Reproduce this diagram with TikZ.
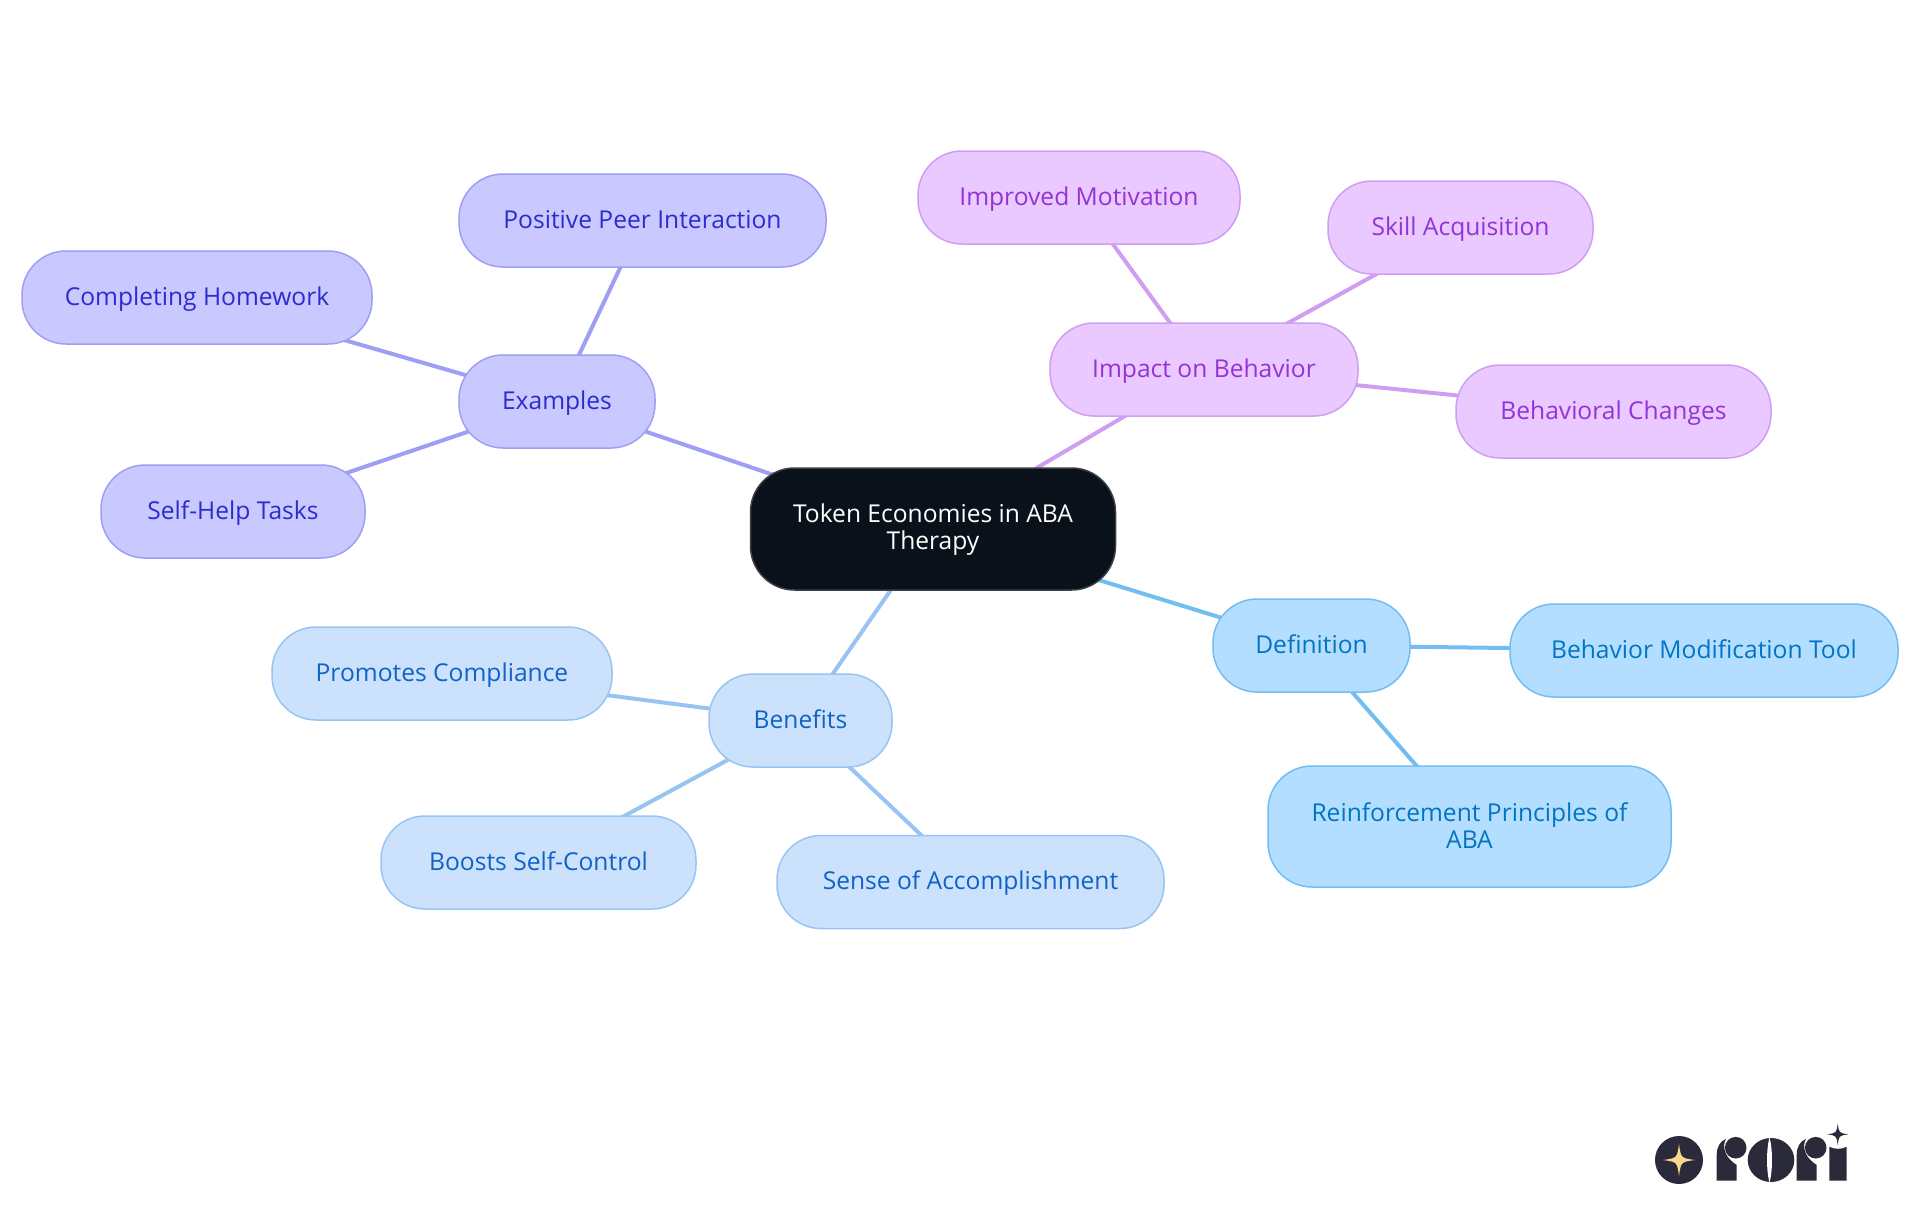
\documentclass[tikz,border=0pt]{standalone}
\usepackage{fontspec}
\setmainfont{Open Sans}
\usetikzlibrary{backgrounds}
\definecolor{rootfill}{HTML}{0B111A}
\definecolor{rootline}{HTML}{3B4047}
\definecolor{violetfill}{HTML}{C9C9FF}
\definecolor{violetline}{HTML}{9E9EF5}
\definecolor{violettext}{HTML}{2B2BD0}
\definecolor{purplefill}{HTML}{E9C9FF}
\definecolor{purpleline}{HTML}{CF9EF2}
\definecolor{purpletext}{HTML}{9333D6}
\definecolor{paleblfill}{HTML}{CCE2FC}
\definecolor{paleblline}{HTML}{98C4F2}
\definecolor{palebltext}{HTML}{0F62C8}
\definecolor{skyfill}{HTML}{B3DEFF}
\definecolor{skyline}{HTML}{72BDF2}
\definecolor{skytext}{HTML}{0274C4}
\definecolor{logodark}{HTML}{2A2A3A}
\definecolor{logostar}{HTML}{FBD98C}
\tikzset{
  mapbox/.style={rounded corners=44pt, line width=1.5pt, inner sep=0pt, minimum height=93pt,
    align=center, text height=20pt, text depth=5pt, font=\fontsize{24.6}{27}\selectfont},
  twolines/.style={text height=, text depth=},
  rootbox/.style={mapbox, twolines, fill=rootfill, draw=rootline, text=white},
  violetbox/.style={mapbox, fill=violetfill, draw=violetline, text=violettext},
  purplebox/.style={mapbox, fill=purplefill, draw=purpleline, text=purpletext},
  palebox/.style={mapbox, fill=paleblfill, draw=paleblline, text=palebltext},
  skybox/.style={mapbox, fill=skyfill, draw=skyline, text=skytext},
  maplink/.style={line width=4pt}
}
% four pointed star of the logo
\newcommand{\logostar}[4]{%
  \fill[#4] (#1,#2-#3) .. controls (#1+0.12*#3,#2-0.12*#3) .. (#1+#3,#2)
    .. controls (#1+0.12*#3,#2+0.12*#3) .. (#1,#2+#3)
    .. controls (#1-0.12*#3,#2+0.12*#3) .. (#1-#3,#2)
    .. controls (#1-0.12*#3,#2-0.12*#3) .. (#1,#2-#3) -- cycle;}
\begin{document}
\begin{tikzpicture}[x=1pt,y=-1pt]
  \useasboundingbox (0,0) rectangle (1920,1215);
  % root
  \node (root) [rootbox, minimum width=365pt, minimum height=122pt] at (933,529) {\rule{0pt}{20pt}Token Economies in ABA\\Therapy};
  % examples
  \node (examples) [violetbox, minimum width=196pt] at (557,401.5) {Examples};
  \node (peer) [violetbox, minimum width=367pt] at (642.5,220.5) {Positive Peer Interaction};
  \node (homework) [violetbox, minimum width=350pt] at (197,297.5) {Completing Homework};
  \node (selfhelp) [violetbox, minimum width=264pt] at (233,511.5) {Self-Help Tasks};
  % impact
  \node (impact) [purplebox, minimum width=308pt] at (1204,369.5) {Impact on Behavior};
  \node (motivation) [purplebox, minimum width=322pt] at (1079,197.5) {Improved Motivation};
  \node (skill) [purplebox, minimum width=265pt] at (1460.5,227.5) {Skill Acquisition};
  \node (changes) [purplebox, minimum width=315pt] at (1613.5,411.5) {Behavioral Changes};
  % definition
  \node (definition) [skybox, minimum width=197pt] at (1311.5,645.5) {Definition};
  \node (tool) [skybox, minimum width=388pt] at (1704,650.5) {Behavior Modification Tool};
  \node (principles) [skybox, twolines, minimum width=403pt, minimum height=121pt] at (1469.5,826.5) {Reinforcement Principles of\\ABA\rule[-2pt]{0pt}{2pt}};
  % benefits
  \node (benefits) [palebox, minimum width=183pt] at (800.5,720.5) {Benefits};
  \node (compliance) [palebox, minimum width=340pt] at (442,673.5) {Promotes Compliance};
  \node (selfcontrol) [palebox, minimum width=315pt] at (538.5,862.5) {Boosts Self-Control};
  \node (accomplish) [palebox, minimum width=387pt] at (970.5,882) {Sense of Accomplishment};
  % links behind the boxes
  \begin{scope}[on background layer]
    \draw[maplink, violetline] (root.center) -- (examples.center);
    \draw[maplink, violetline] (examples.center) -- (peer.center);
    \draw[maplink, violetline] (examples.center) -- (homework.center);
    \draw[maplink, violetline] (examples.center) -- (selfhelp.center);
    \draw[maplink, purpleline] (root.center) -- (impact.center);
    \draw[maplink, purpleline] (impact.center) -- (motivation.center);
    \draw[maplink, purpleline] (impact.center) -- (skill.center);
    \draw[maplink, purpleline] (impact.center) -- (changes.center);
    \draw[maplink, skyline] (root.center) -- (definition.center);
    \draw[maplink, skyline] (definition.center) -- (tool.center);
    \draw[maplink, skyline] (definition.center) -- (principles.center);
    \draw[maplink, paleblline] (root.center) -- (benefits.center);
    \draw[maplink, paleblline] (benefits.center) -- (compliance.center);
    \draw[maplink, paleblline] (benefits.center) -- (selfcontrol.center);
    \draw[maplink, paleblline] (benefits.center) -- (accomplish.center);
  \end{scope}
  % logo
  \fill[logodark] (1679,1160) circle [radius=24];
  \logostar{1679}{1160}{16}{logostar}
  \fill[logodark] (1716.7,1180.7) -- (1716.7,1155) .. controls (1716.7,1147) and (1720,1141) .. (1726,1139)
    .. controls (1722,1146) and (1724,1157) .. (1736.7,1165) -- (1736.7,1180.7) -- cycle;
  \fill[logodark] (1735.7,1147.7) circle [radius=10.8];
  \fill[logodark] (1771,1160) ellipse [x radius=23.3, y radius=22];
  \fill[white] (1769.5,1137) .. controls (1766.2,1150) and (1766.2,1170) .. (1769.5,1183)
    .. controls (1772.8,1170) and (1772.8,1150) .. (1769.5,1137) -- cycle;
  \fill[logodark] (1796.7,1180.7) -- (1796.7,1155) .. controls (1796.7,1147) and (1800,1141) .. (1806,1139)
    .. controls (1802,1146) and (1804,1157) .. (1816.7,1165) -- (1816.7,1180.7) -- cycle;
  \fill[logodark] (1815.7,1147.7) circle [radius=10.8];
  \fill[logodark] (1829.3,1180.7) -- (1829.3,1146.7) .. controls (1834,1149.5) and (1842,1149.5) .. (1846.7,1146.7) -- (1846.7,1180.7) -- cycle;
  \logostar{1837.7}{1134.3}{10.7}{logodark}
\end{tikzpicture}
\end{document}
